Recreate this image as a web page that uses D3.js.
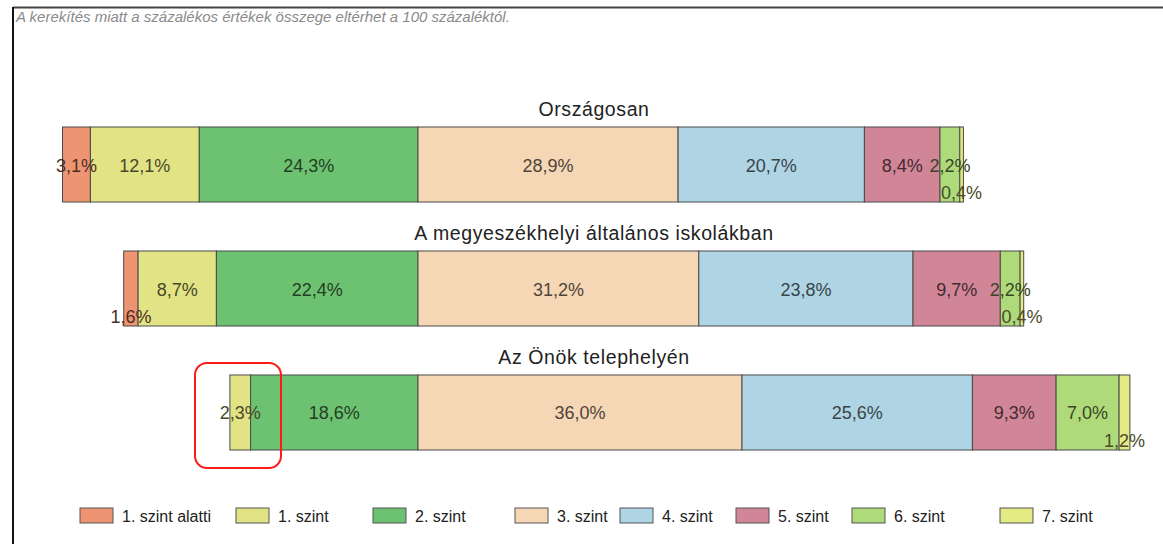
<!DOCTYPE html>
<html>
<head>
<meta charset="utf-8">
<script src="https://cdn.jsdelivr.net/npm/d3@7"></script>
<style>
  body { margin: 0; background: #fff; }
  text { font-family: "Liberation Sans", Arial, sans-serif; }
</style>
</head>
<body>
<div id="chart"></div>
<script>
// data
var groups = ["Országosan", "A megyeszékhelyi általános iskolákban", "Az Önök telephelyén"];
var levels = ["1. szint alatti", "1. szint", "2. szint", "3. szint", "4. szint", "5. szint", "6. szint", "7. szint"];
var orszagos = [3.1, 12.1, 24.3, 28.9, 20.7, 8.4, 2.2, 0.4];
var megyeszekhely = [1.6, 8.7, 22.4, 31.2, 23.8, 9.7, 2.2, 0.4];
var telephely = [0, 2.3, 18.6, 36.0, 25.6, 9.3, 7.0, 1.2];
var colors = ["#ee9472", "#e2e384", "#6dc271", "#f5d6b5", "#afd4e3", "#d18697", "#afda7a", "#e4ea84"];

var allValues = [orszagos, megyeszekhely, telephely];

var width = 1163, height = 544;

var svg = d3.select("#chart")
  .append("svg")
    .attr("width", width)
    .attr("height", height);

// frame
svg.append("line").attr("x1", 13).attr("x2", width).attr("y1", 7.5).attr("y2", 7.5)
  .attr("stroke", "#444").attr("stroke-width", 2);
svg.append("line").attr("x1", 13).attr("x2", 13).attr("y1", 7).attr("y2", height)
  .attr("stroke", "#111").attr("stroke-width", 2);

svg.append("text")
  .attr("x", 16).attr("y", 22)
  .style("font-size", "15px")
  .style("font-style", "italic")
  .attr("fill", "#8a8a8a")
  .text("A kerekítés miatt a százalékos értékek összege eltérhet a 100 százaléktól.");

// diverging scale: 0 is the border between 2. and 3. szint
var x = d3.scaleLinear()
  .domain([-40, 80])
  .range([58, 1138]);

var y = d3.scaleBand()
  .domain(groups)
  .range([127, 450])
  .paddingInner(0.395)
  .paddingOuter(0);

var titleX = 594;

groups.forEach(function(g, gi) {
  var vals = allValues[gi];
  var start = -(vals[0] + vals[1] + vals[2]);
  var segs = [];
  var acc = start;
  vals.forEach(function(v, i) {
    segs.push({level: levels[i], v: v, x0: acc, x1: acc + v, c: colors[i]});
    acc += v;
  });

  var gg = svg.append("g");
  var y0 = y(g), bh = y.bandwidth();

  gg.append("text")
    .attr("x", titleX)
    .attr("y", y0 - 11)
    .attr("text-anchor", "middle")
    .style("font-size", "19.5px")
    .style("letter-spacing", "0.6px")
    .attr("fill", "#222")
    .text(g);

  gg.selectAll("rect")
    .data(segs.filter(function(d) { return d.v > 0; }))
    .enter()
    .append("rect")
      .attr("x", function(d) { return x(d.x0); })
      .attr("y", y0)
      .attr("width", function(d) { return x(d.x1) - x(d.x0); })
      .attr("height", bh)
      .attr("fill", function(d) { return d.c; })
      .attr("stroke", "#4a4a4a")
      .attr("stroke-width", 1);

  gg.selectAll("text.lab")
    .data(segs.filter(function(d) { return d.v > 0; }))
    .enter()
    .append("text")
      .attr("class", "lab")
      .attr("x", function(d) { return (x(d.x0) + x(d.x1)) / 2; })
      .attr("y", function(d) { return d.v < 2 ? y0 + bh - 3 : y0 + bh / 2 + 7; })
      .attr("text-anchor", "middle")
      .style("font-size", "18px")
      .attr("fill", function(d) { return d3.color(d.c).darker(3.2); })
      .text(function(d) { return d3.format(".1f")(d.v).replace(".", ",") + "%"; });
});

// highlight box
svg.append("rect")
  .attr("x", 195).attr("y", 363)
  .attr("width", 86).attr("height", 105)
  .attr("rx", 12)
  .attr("fill", "none")
  .attr("stroke", "#ff1a1a")
  .attr("stroke-width", 2);

// legend
var legendX = [80, 236, 373, 515, 620, 736, 852, 1000];
var leg = svg.append("g");
levels.forEach(function(l, i) {
  leg.append("rect")
    .attr("x", legendX[i]).attr("y", 508)
    .attr("width", 33).attr("height", 15)
    .attr("fill", colors[i])
    .attr("stroke", "#555");
  leg.append("text")
    .attr("x", legendX[i] + 42).attr("y", 522)
    .style("font-size", "16px")
    .attr("fill", "#222")
    .text(l);
});
</script>
</body>
</html>
